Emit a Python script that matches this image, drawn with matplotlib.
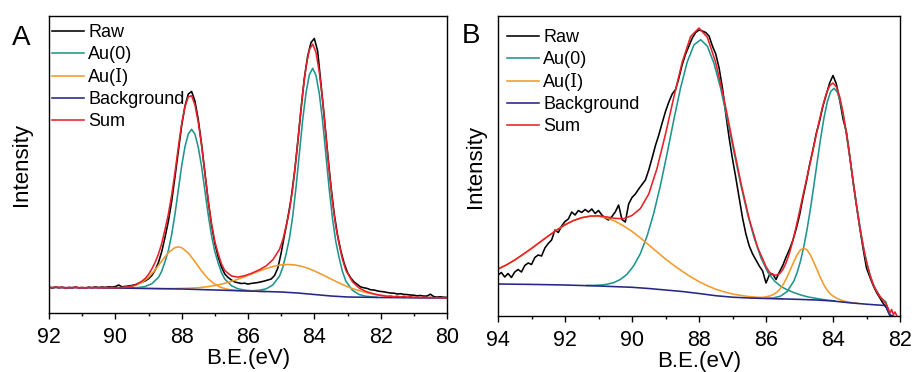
import numpy as np
import matplotlib
matplotlib.use("Agg")
import matplotlib.pyplot as plt
from matplotlib.font_manager import FontProperties
from matplotlib.ticker import MultipleLocator

plt.rcParams['font.family'] = ['Liberation Sans', 'DejaVu Sans']

# ---------------- panel A (binding energy in eV, intensity in arbitrary units) ----------------
a_raw_e = np.linspace(92.0, 80.0, 121)
a_raw = [25.6, 25.0, 25.9, 25.3, 25.7, 25.0, 25.4, 25.2, 25.9, 25.2, 25.4, 25.1, 25.8, 25.4, 26.1, 25.5, 26.0, 25.6, 26.3, 25.9, 26.4,
         28.0, 26.2, 26.6, 27.0, 27.6, 28.3, 29.6, 30.8, 32.1, 34.2, 37.5, 42.8, 50.5, 61.5, 76.0, 92.0, 112.0, 136.5, 162.0, 187.5,
         207.0, 219.0, 221.5, 212.0, 193.5, 169.0, 140.5, 112.0, 88.0, 69.5, 56.0, 46.0, 39.0, 35.5, 33.0, 31.0, 30.2, 29.5, 29.8, 28.9,
         29.6, 30.0, 30.5, 31.2, 32.0, 33.0, 34.0, 37.5, 45.0, 60.0, 78.0, 95.0, 114.5, 140.0, 171.0, 204.5, 235.0, 257.0, 270.5, 274.5,
         262.0, 229.0, 196.0, 160.0, 127.0, 99.0, 78.0, 62.0, 49.5, 40.5, 35.0, 31.0, 28.5, 26.0, 25.2, 24.5, 23.2, 23.0, 22.1, 21.5,
         21.2, 20.5, 20.0, 19.8, 19.0, 19.3, 18.6, 18.4, 18.0, 17.8, 17.2, 17.5, 16.9, 17.0, 18.8, 16.4, 16.0, 16.2, 15.8, 15.6]

a_au0_1_e = [89.9, 89.5, 89.3, 89.1, 88.9, 88.7, 88.6, 88.5, 88.4, 88.3, 88.2, 88.1, 88.0, 87.9, 87.8, 87.7, 87.6, 87.5, 87.4,
             87.3, 87.2, 87.1, 87.0, 86.9, 86.8, 86.7, 86.5, 86.3, 86.1, 85.9, 85.5]
a_au0_1 = [25.0, 25.1, 25.5, 26.5, 29.3, 35.6, 41.9, 51.5, 62.6, 78.6, 99.3, 123.3, 147.2, 166.3, 179.0, 183.7, 178.8, 165.9, 146.6,
           122.5, 98.4, 77.5, 61.4, 50.1, 40.4, 33.9, 27.3, 24.2, 22.9, 22.2, 21.5]

a_au0_2_e = [86.1, 85.8, 85.65, 85.45, 85.25, 85.05, 84.95, 84.85, 84.75, 84.65, 84.55, 84.45, 84.35, 84.25, 84.15, 84.05, 83.95,
             83.85, 83.75, 83.65, 83.55, 83.45, 83.35, 83.25, 83.15, 83.05, 82.85, 82.65, 82.45, 82.1]
a_au0_2 = [22.1, 22.4, 22.8, 24.2, 28.1, 36.9, 45.8, 59.1, 74.7, 97.1, 126.3, 160.0, 193.6, 220.4, 238.2, 244.7, 237.6,
           219.2, 191.8, 157.6, 123.4, 93.7, 70.9, 54.9, 41.2, 31.9, 22.7, 18.5, 16.8, 15.6]

a_au1_1_e = [90.4, 90.0, 89.8, 89.6, 89.4, 89.2, 89.0, 88.8, 88.6, 88.4, 88.2, 88.1, 88.0, 87.8, 87.6, 87.4, 87.2, 87.0,
             86.8, 86.6, 86.4, 86.2, 86.0, 85.6]
a_au1_1 = [25.1, 25.1, 25.3, 25.9, 27.5, 30.5, 35.5, 43.1, 52.1, 60.4, 65.4, 66.1, 65.3, 60.0, 51.4, 42.1, 34.2, 28.7,
           25.4, 23.6, 22.8, 22.3, 22.0, 21.6]

a_au1_2_e = [89.4, 89.0, 88.6, 88.2, 87.8, 87.6, 87.4, 87.2, 87.0, 86.8, 86.6, 86.4, 86.2, 86.0, 85.8, 85.6, 85.4, 85.2, 85.0,
             84.8, 84.6, 84.4, 84.2, 84.0, 83.8, 83.6, 83.4, 83.2, 83.0, 82.8, 82.6, 82.4, 82.2, 82.0, 81.6, 81.2, 80.8, 80.4]
a_au1_2 = [24.9, 24.6, 24.4, 24.5, 24.8, 25.1, 25.6, 26.4, 27.5, 28.9, 30.6, 32.7, 35.0, 37.6, 40.2, 42.7, 45.0, 46.9, 48.1,
           48.5, 48.1, 46.8, 44.8, 42.1, 39.0, 35.7, 32.4, 29.2, 26.3, 23.9, 21.9, 20.2, 18.8, 17.7, 16.4, 15.7, 15.3, 15.1]

a_bg_e = [92, 91, 90, 89, 88, 87, 86, 85, 84.5, 84, 83.5, 83, 82, 81, 80]
a_bg = [25.5, 25.3, 25.0, 24.5, 24.0, 23.0, 22.0, 21.0, 20.0, 18.5, 17.0, 16.0, 15.5, 15.2, 15.0]

a_sum_e = [92.0, 91.9, 91.8, 91.7, 91.6, 91.5, 91.4, 91.3, 91.2, 91.1, 91.0, 90.9, 90.8, 90.7, 90.6, 90.5, 90.4, 90.3, 90.2, 90.1,
           90.0, 89.8, 89.6, 89.4, 89.2, 89.1, 89.0, 88.9, 88.8, 88.7, 88.6, 88.5, 88.4, 88.3, 88.2, 88.1, 88.0, 87.9, 87.8,
           87.7, 87.6, 87.5, 87.4, 87.3, 87.2, 87.1, 87.0, 86.9, 86.8, 86.7, 86.5, 86.3, 86.1, 85.9, 85.65, 85.45, 85.25, 85.05,
           84.95, 84.85, 84.75, 84.65, 84.55, 84.45, 84.35, 84.25, 84.15, 84.05, 83.95, 83.85, 83.75, 83.65, 83.55, 83.45,
           83.35, 83.25, 83.15, 83.05, 82.85, 82.65, 82.45, 82.25, 82.05, 81.9, 81.8, 81.7, 81.6, 81.5, 81.4, 81.3, 81.2,
           81.1, 81.0, 80.9, 80.8, 80.7, 80.6, 80.5, 80.4, 80.3, 80.2, 80.1, 80.0]
a_sum = [25.9, 25.2, 26.1, 25.4, 25.8, 24.9, 25.6, 25.3, 26.0, 25.1, 25.5, 25.0, 25.7, 25.2, 25.6, 25.1, 25.4, 25.3, 25.6, 25.4,
         25.3, 25.4, 26.1, 28.0, 31.8, 34.5, 38.6, 44.0, 50.6, 58.9, 69.8, 83.9, 99.0, 118.2, 141.0, 165.8, 189.1, 206.4, 216.2,
         217.2, 208.1, 190.9, 167.5, 139.8, 112.6, 89.3, 71.6, 59.3, 49.1, 42.5, 37.0, 35.9, 37.3, 39.6, 43.3, 47.2, 53.3, 63.7,
         73.2, 86.9, 102.7, 125.1, 154.1, 187.4, 220.4, 246.5, 263.4, 268.9, 260.6, 241.0, 212.3, 176.7, 141.1, 110.0,
         85.8, 68.4, 53.4, 42.8, 31.2, 25.0, 21.6, 19.5, 17.9, 17.2, 16.5, 17.0, 16.2, 16.8, 16.0, 16.6, 15.8,
         16.3, 15.6, 16.1, 15.4, 16.0, 15.3, 15.8, 15.2, 15.7, 15.0, 15.5, 15.1]

# ---------------- panel B ----------------
b_raw_e = np.linspace(94.0, 82.3, 118)
b_raw = [41.0, 43.5, 39.0, 42.5, 38.5, 44.0, 46.5, 44.0, 50.5, 53.0,
         51.5, 58.5, 61.0, 60.0, 68.0, 72.5, 76.0, 86.0, 83.5, 90.0,
         94.5, 97.0, 104.0, 101.0, 105.5, 103.5, 106.5, 104.0, 107.0, 102.5,
         105.5, 101.0, 98.0, 96.0, 99.5, 104.0, 111.0, 96.5, 94.0, 112.0,
         118.5, 122.0, 127.0, 131.5, 136.0, 146.0, 158.0, 170.5, 181.0, 193.0,
         204.5, 214.0, 222.0, 226.5, 238.0, 251.5, 262.0, 270.0, 278.0, 283.5,
         286.0, 285.0, 283.5, 280.0, 270.0, 262.0, 248.0, 228.0, 202.0, 178.0,
         157.0, 138.0, 118.0, 98.0, 82.0, 70.0, 62.0, 56.0, 50.0, 45.0,
         33.0, 41.0, 42.0, 36.5, 44.0, 50.5, 59.0, 66.5, 75.5, 87.0,
         100.5, 118.0, 133.5, 151.0, 166.0, 182.5, 195.0, 210.0, 221.5, 233.0,
         240.5, 232.0, 216.0, 197.0, 184.0, 160.0, 134.0, 110.5, 88.0, 67.0,
         48.0, 39.0, 30.5, 23.5, 18.0, 12.5, 8.0, 0.5]

b_au0_1_e = [91.35, 91.15, 90.95, 90.75, 90.55, 90.35, 90.15, 89.95, 89.75, 89.55, 89.35, 89.15, 88.95, 88.75, 88.55,
             88.35, 88.15, 87.95, 87.75, 87.55, 87.35, 87.15, 86.95, 86.75, 86.55, 86.35, 86.15, 85.95, 85.75, 85.55,
             85.35, 85.15, 84.95, 84.75, 84.55, 84.35, 84.15, 83.95]
b_au0_1 = [30.6, 30.6, 30.9, 31.7, 33.3, 36.5, 41.6, 50.2, 62.4, 79.9, 102.8, 130.9, 162.8, 196.5, 228.2,
           254.2, 271.2, 276.3, 269.8, 252.4, 227.2, 196.1, 163.0, 130.9, 101.9, 77.6, 58.2, 43.9, 35.1, 29.4,
           25.9, 23.2, 20.9, 19.1, 17.9, 16.7, 15.8, 15.1]

b_au0_2_e = [85.97, 85.77, 85.57, 85.37, 85.17, 85.07, 84.97, 84.87, 84.77, 84.67, 84.57, 84.47, 84.37, 84.27, 84.17,
             84.07, 83.97, 83.87, 83.77, 83.67, 83.57, 83.47, 83.37, 83.27, 83.17, 83.07, 82.97, 82.87, 82.77, 82.57,
             82.42, 82.35, 82.3]
b_au0_2 = [17.7, 18.2, 19.8, 24.4, 34.9, 43.5, 54.9, 69.5, 87.4, 108.1, 130.8, 154.5, 177.5, 198.0, 214.2,
           224.4, 227.7, 223.8, 213.0, 196.2, 175.2, 151.6, 127.6, 104.5, 83.4, 65.0, 50.1, 38.3, 29.4, 18.2,
           14.0, 5.0, 1.5]

b_au1_1_e = [94.0, 93.75, 93.5, 93.25, 93.0, 92.75, 92.5, 92.25, 92.0, 91.75, 91.5, 91.25, 91.0, 90.75, 90.5, 90.25,
             90.0, 89.75, 89.5, 89.25, 89.0, 88.75, 88.5, 88.25, 88.0, 87.75, 87.5, 87.25, 87.0, 86.75, 86.5, 86.25,
             86.0, 85.75, 85.5]
b_au1_1 = [46.9, 51.1, 56.0, 61.6, 67.6, 73.8, 80.0, 85.9, 91.2, 95.4, 98.3, 99.8, 99.7, 98.0, 94.7, 90.1,
           84.6, 78.1, 71.1, 64.0, 57.0, 50.6, 44.7, 39.2, 34.4, 30.3, 26.8, 24.2, 22.0, 20.6, 19.4, 18.7,
           18.1, 17.6, 17.1]

b_au1_2_e = [86.47, 86.27, 86.07, 85.87, 85.77, 85.67, 85.57, 85.47, 85.37, 85.27, 85.17, 85.07, 84.97, 84.87, 84.77,
             84.67, 84.57, 84.47, 84.37, 84.27, 84.17, 84.07, 83.97, 83.87, 83.67, 83.47, 83.27]
b_au1_2 = [18.1, 18.2, 18.7, 20.2, 21.7, 23.9, 27.5, 32.5, 39.0, 46.6, 54.2, 61.3, 66.2, 67.8, 65.9,
           60.8, 53.5, 45.8, 37.9, 31.0, 25.6, 21.8, 19.3, 17.4, 14.9, 13.5, 12.7]

b_bg_e = [94, 93, 92, 91, 90, 89.5, 89, 88.5, 88, 87.5, 87, 86.5, 86, 85.5, 85, 84.5, 84, 83.5, 83, 82.5, 82.42,
          82.35, 82.3, 82.2]
b_bg = [32.0, 31.6, 31.0, 30.0, 28.7, 27.5, 26.0, 24.5, 22.5, 20.3, 18.8, 18.0, 17.5, 17.1, 16.6, 16.0, 15.0, 13.2,
        11.8, 10.6, 10.3, 4.0, 1.0, 0.0]

b_sum_e = [94.0, 93.75, 93.5, 93.25, 93.0, 92.75, 92.5, 92.25, 92.0, 91.75, 91.5, 91.25, 91.0, 90.75, 90.5, 90.25,
           90.0, 89.75, 89.5, 89.25, 89.0, 88.75, 88.5, 88.25, 88.0, 87.75, 87.5, 87.25, 87.0, 86.75, 86.5, 86.25, 86.0,
           85.9, 85.8, 85.7, 85.6, 85.5, 85.4, 85.3, 85.2, 85.1, 85.0, 84.9, 84.8, 84.7, 84.6, 84.5, 84.4, 84.3, 84.2,
           84.1, 84.0, 83.9, 83.8, 83.7, 83.6, 83.5, 83.4, 83.3, 83.2, 83.1, 83.0, 82.9, 82.8, 82.7, 82.6, 82.5,
           82.45, 82.4, 82.35, 82.3, 82.25, 82.2, 82.15, 82.1]
b_sum = [46.9, 51.1, 56.0, 61.7, 67.6, 73.8, 80.0, 85.9, 91.2, 95.4, 98.3, 99.9, 100.2, 99.0, 97.6, 97.3,
         100.5, 107.5, 122.0, 148.0, 182.0, 219.0, 254.0, 279.5, 288.0, 278.7, 253.3, 216.7, 174.4, 133.2, 96.8, 68.6, 49.4,
         43.9, 41.2, 40.8, 42.2, 46.2, 53.2, 62.8, 75.0, 89.3, 104.4, 120.1, 135.1, 150.4, 165.6, 181.4, 196.6, 210.7, 222.3,
         230.3, 233.0, 229.2, 219.2, 203.4, 182.9, 159.5, 135.2, 111.3, 89.4, 70.1, 54.2, 41.5, 31.6, 24.5, 19.4, 15.8,
         13.5, 11.0, 7.5, 3.0, 6.5, 1.5, 4.0, 0.5]

labels = ['Raw', 'Au(0)', 'Au(\u2160)', 'Background', 'Sum']
c_raw, c_au0, c_au1, c_bg, c_sum = 'black', '#20948e', '#f39a2a', '#262688', '#e8202a'

fig = plt.figure(figsize=(9.16, 3.72), dpi=100)
ax_a = fig.add_axes([49 / 916, 1 - 313 / 372, 398 / 916, 297 / 372])
ax_b = fig.add_axes([498 / 916, 1 - 316 / 372, 402 / 916, 300 / 372])

lw = 1.15
leg_font = FontProperties(family=['Liberation Sans', 'DejaVu Serif'], size=13)


def draw_panel(ax, raw, au0, au1, bg, sm, xlim, ylim_top, leg_anchor, ylpad):
    h_raw, = ax.plot(raw[0], raw[1], color=c_raw, lw=lw)
    h_au0 = None
    for e, v in au0:
        h_au0, = ax.plot(e, v, color=c_au0, lw=lw)
    h_au1 = None
    for e, v in au1:
        h_au1, = ax.plot(e, v, color=c_au1, lw=lw)
    h_bg, = ax.plot(bg[0], bg[1], color=c_bg, lw=lw)
    h_sum, = ax.plot(sm[0], sm[1], color=c_sum, lw=lw)
    ax.set_xlim(*xlim)
    ax.set_ylim(0, ylim_top)
    ax.set_yticks([])
    ax.xaxis.set_major_locator(MultipleLocator(2))
    ax.xaxis.set_minor_locator(MultipleLocator(1))
    ax.tick_params(axis='x', which='major', direction='out', length=4, width=1, labelsize=15.5, pad=6)
    ax.tick_params(axis='x', which='minor', direction='out', length=2.5, width=1)
    for s in ax.spines.values():
        s.set_linewidth(1.0)
    ax.set_xlabel('B.E.(eV)', fontsize=16, labelpad=0)
    ax.set_ylabel('Intensity', fontsize=16, labelpad=ylpad)
    ax.legend([h_raw, h_au0, h_au1, h_bg, h_sum], labels, loc='upper left', bbox_to_anchor=leg_anchor,
              frameon=False, prop=leg_font, handlelength=1.75, handletextpad=0.25, labelspacing=0.28,
              borderaxespad=0, borderpad=0)


draw_panel(ax_a, (a_raw_e, a_raw), [(a_au0_1_e, a_au0_1), (a_au0_2_e, a_au0_2)],
           [(a_au1_1_e, a_au1_1), (a_au1_2_e, a_au1_2)], (a_bg_e, a_bg), (a_sum_e, a_sum),
           (92, 80), 297, (3 / 398, 1 - 8 / 297), 12)
draw_panel(ax_b, (b_raw_e, b_raw), [(b_au0_1_e, b_au0_1), (b_au0_2_e, b_au0_2)],
           [(b_au1_1_e, b_au1_1), (b_au1_2_e, b_au1_2)], (b_bg_e, b_bg), (b_sum_e, b_sum),
           (94, 82), 300, (9 / 402, 1 - 13 / 300), 9)

fig.text(12 / 916, 1 - 45 / 372, 'A', fontsize=20, va='baseline')
fig.text(462 / 916, 1 - 43 / 372, 'B', fontsize=20, va='baseline')

fig.savefig('out.png', dpi=100)
